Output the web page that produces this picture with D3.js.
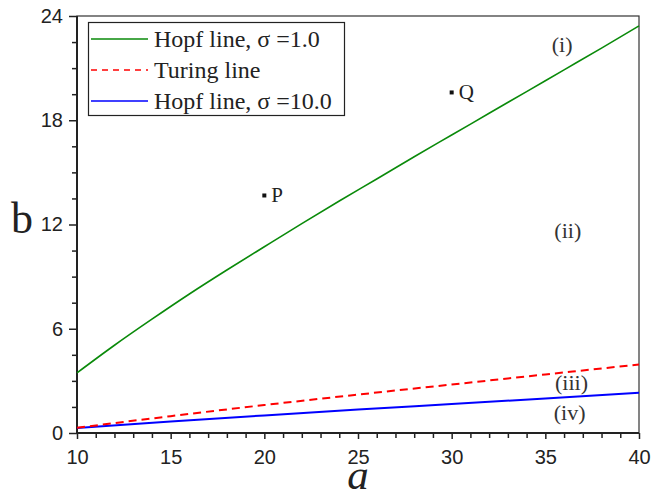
<!DOCTYPE html>
<html>
<head>
<meta charset="utf-8">
<script src="https://cdn.jsdelivr.net/npm/d3@7"></script>
<style>
  body { margin: 0; background: #fff; }
  .tick text { font-family: "Liberation Sans", Arial, sans-serif; font-size: 20px; fill: #222; }
</style>
</head>
<body>
<svg id="chart" width="651" height="492"></svg>
<script>
// Hopf line, sigma = 1.0
const hopf1A = [10, 12, 14, 16, 18, 20, 22, 24, 26, 28, 30, 32, 34, 36, 38, 40];
const hopf1B = [3.46, 5.05, 6.55, 8.0, 9.38, 10.72, 12.05, 13.35, 14.62, 15.9, 17.15, 18.4, 19.65, 20.9, 22.15, 23.43];
// Turing line
const turingA = [10, 15, 20, 25, 30, 35, 40];
const turingB = [0.3, 0.97, 1.61, 2.21, 2.79, 3.37, 3.94];
// Hopf line, sigma = 10.0
const hopf10A = [10, 15, 20, 25, 30, 35, 40];
const hopf10B = [0.29, 0.66, 1.01, 1.35, 1.67, 1.99, 2.31];
// marked points
const pointNames = ["P", "Q"];
const pointA = [20, 30];
const pointB = [13.67, 19.6];
// region labels
const regionNames = ["(i)", "(ii)", "(iii)", "(iv)"];
const regionA = [35.9, 36.2, 36.4, 36.3];
const regionB = [21.9, 11.2, 2.5, 0.72];
// ticks
const xTicks = [10, 15, 20, 25, 30, 35, 40];
const yTicks = [0, 6, 12, 18, 24];
const legendNames = ["Hopf line, \u03c3 =1.0", "Turing line", "Hopf line, \u03c3 =10.0"];

const svg = d3.select("#chart");
const mLeft = 77, mRight = 639, mTop = 16, mBottom = 433;

const x = d3.scaleLinear().domain([10, 40]).range([mLeft, mRight]);
const y = d3.scaleLinear().domain([0, 24]).range([mBottom, mTop]);

// minor ticks
const xMinor = d3.range(10, 41, 1).filter(d => xTicks.indexOf(d) < 0);
const yMinor = d3.range(0, 24.01, 1.5).filter(d => yTicks.indexOf(d) < 0);

svg.append("g")
  .attr("transform", "translate(0," + mBottom + ")")
  .call(d3.axisBottom(x).tickValues(xMinor).tickSize(5).tickFormat(""))
  .call(g => g.select(".domain").remove())
  .selectAll("line").attr("stroke", "#222").attr("stroke-width", 1.5);

svg.append("g")
  .attr("transform", "translate(" + mLeft + ",0)")
  .call(d3.axisLeft(y).tickValues(yMinor).tickSize(5).tickFormat(""))
  .call(g => g.select(".domain").remove())
  .selectAll("line").attr("stroke", "#222").attr("stroke-width", 1.5);

const xAxis = svg.append("g")
  .attr("transform", "translate(0," + mBottom + ")")
  .call(d3.axisBottom(x).tickValues(xTicks).tickSize(6).tickPadding(6).tickSizeOuter(0));
xAxis.selectAll("line").attr("stroke", "#222").attr("stroke-width", 1.5);
xAxis.select(".domain").remove();
xAxis.selectAll("text").attr("dy", "0.71em").attr("y", 17);

const yAxis = svg.append("g")
  .attr("transform", "translate(" + mLeft + ",0)")
  .call(d3.axisLeft(y).tickValues(yTicks).tickSize(8).tickPadding(6).tickSizeOuter(0));
yAxis.selectAll("line").attr("stroke", "#222").attr("stroke-width", 1.5);
yAxis.select(".domain").remove();

// frame
svg.append("rect")
  .attr("x", mLeft).attr("y", mTop)
  .attr("width", mRight - mLeft).attr("height", mBottom - mTop)
  .attr("fill", "none").attr("stroke", "#333").attr("stroke-width", 1.2);
svg.append("line")
  .attr("x1", mLeft).attr("x2", mRight).attr("y1", mBottom).attr("y2", mBottom)
  .attr("stroke", "#222").attr("stroke-width", 2);
svg.append("line")
  .attr("x1", mLeft).attr("x2", mLeft).attr("y1", mTop).attr("y2", mBottom)
  .attr("stroke", "#222").attr("stroke-width", 2);

const line = d3.line().x(d => x(d[0])).y(d => y(d[1])).curve(d3.curveMonotoneX);

svg.append("path")
  .datum(hopf1A.map((a, i) => [a, hopf1B[i]]))
  .attr("d", line).attr("fill", "none")
  .attr("stroke", "#0a8a0a").attr("stroke-width", 1.6);

svg.append("path")
  .datum(hopf10A.map((a, i) => [a, hopf10B[i]]))
  .attr("d", line).attr("fill", "none")
  .attr("stroke", "#0000ff").attr("stroke-width", 2);

svg.append("path")
  .datum(turingA.map((a, i) => [a, turingB[i]]))
  .attr("d", line).attr("fill", "none")
  .attr("stroke", "#ff0000").attr("stroke-width", 2)
  .attr("stroke-dasharray", "8,5");

// points P and Q
pointNames.forEach((n, i) => {
  svg.append("rect")
    .attr("x", x(pointA[i]) - 2).attr("y", y(pointB[i]) - 2)
    .attr("width", 4).attr("height", 4).attr("fill", "#111");
  svg.append("text")
    .attr("x", x(pointA[i]) + 7).attr("y", y(pointB[i]) + 7)
    .attr("font-family", "Liberation Serif, Times New Roman, serif")
    .attr("font-size", 21).attr("fill", "#222")
    .text(n);
});

// region labels
regionNames.forEach((n, i) => {
  svg.append("text")
    .attr("x", x(regionA[i])).attr("y", y(regionB[i]))
    .attr("text-anchor", "middle")
    .attr("font-family", "Liberation Serif, Times New Roman, serif")
    .attr("font-size", 22).attr("fill", "#333")
    .text(n);
});

// axis titles
svg.append("text")
  .attr("x", 11).attr("y", 233)
  .attr("font-family", "Liberation Serif, Times New Roman, serif")
  .attr("font-size", 44).attr("fill", "#222")
  .text("b");
svg.append("text")
  .attr("x", (mLeft + mRight) / 2).attr("y", 489)
  .attr("text-anchor", "middle")
  .attr("font-family", "Liberation Serif, Times New Roman, serif")
  .attr("font-style", "italic")
  .attr("font-size", 43).attr("fill", "#222")
  .text("a");

// legend
const legend = svg.append("g");
legend.append("rect")
  .attr("x", 88.5).attr("y", 22.5).attr("width", 256).attr("height", 93)
  .attr("fill", "#fff").attr("stroke", "#222").attr("stroke-width", 1.2);
const legendColors = ["#0a8a0a", "#ff0000", "#0000ff"];
const legendDash = [null, "6,5", null];
const legendY = [39, 70, 101];
legendNames.forEach((n, i) => {
  legend.append("line")
    .attr("x1", 91).attr("x2", 148).attr("y1", legendY[i]).attr("y2", legendY[i])
    .attr("stroke", legendColors[i]).attr("stroke-width", 1.6)
    .attr("stroke-dasharray", legendDash[i]);
  legend.append("text")
    .attr("x", 154).attr("y", legendY[i] + 8)
    .attr("font-family", "Liberation Serif, Times New Roman, serif")
    .attr("font-size", 24).attr("fill", "#222")
    .text(n);
});
</script>
</body>
</html>
